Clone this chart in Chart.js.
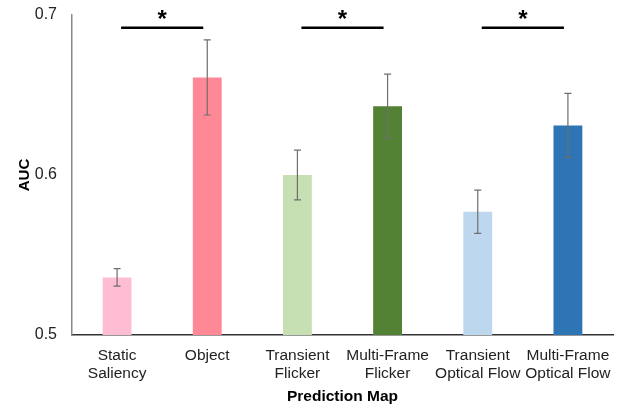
<!DOCTYPE html>
<html>
<head>
<meta charset="utf-8">
<script src="https://cdn.jsdelivr.net/npm/chart.js@4.4.1/dist/chart.umd.min.js"></script>
<style>
  html, body { margin: 0; padding: 0; background: #fff; }
  #wrap { width: 619px; height: 406px; }
</style>
</head>
<body>
<div id="wrap"><canvas id="chart-auc"></canvas></div>
<script>
// valores
var categories = [
  ['Static', 'Saliency'],
  ['Object'],
  ['Transient', 'Flicker'],
  ['Multi-Frame', 'Flicker'],
  ['Transient', 'Optical Flow'],
  ['Multi-Frame', 'Optical Flow']
];
var aucValues = [0.536, 0.661, 0.600, 0.643, 0.577, 0.631];
var aucErrors = [0.0055, 0.0235, 0.0155, 0.020, 0.0135, 0.020];
var barColors = ['#FFBDD3', '#FF8896', '#C6E0B4', '#548235', '#BDD7EE', '#2E75B6'];
var yTicks = [0.5, 0.6, 0.7];
var sigPairs = [[0, 1], [2, 3], [4, 5]];
var sigLevel = 0.692;

var FONT = 'Liberation Sans, Arial, Helvetica, sans-serif';

var errorBars = {
  id: 'errorBars',
  afterDatasetsDraw: function (chart) {
    var ctx = chart.ctx;
    var meta = chart.getDatasetMeta(0);
    var y = chart.scales.y;
    ctx.save();
    ctx.strokeStyle = '#6e6e6e';
    ctx.lineWidth = 1.2;
    meta.data.forEach(function (bar, i) {
      var top = y.getPixelForValue(aucValues[i] + aucErrors[i]);
      var bot = y.getPixelForValue(aucValues[i] - aucErrors[i]);
      ctx.beginPath();
      ctx.moveTo(bar.x, top);
      ctx.lineTo(bar.x, bot);
      ctx.moveTo(bar.x - 3.5, top);
      ctx.lineTo(bar.x + 3.5, top);
      ctx.moveTo(bar.x - 3.5, bot);
      ctx.lineTo(bar.x + 3.5, bot);
      ctx.stroke();
    });
    ctx.restore();
  }
};

var significance = {
  id: 'significance',
  afterDatasetsDraw: function (chart) {
    var ctx = chart.ctx;
    var x = chart.scales.x;
    var yy = chart.scales.y.getPixelForValue(sigLevel);
    ctx.save();
    ctx.strokeStyle = '#000';
    ctx.fillStyle = '#000';
    ctx.lineWidth = 2.5;
    ctx.font = 'bold 24px ' + FONT;
    ctx.textAlign = 'center';
    ctx.textBaseline = 'alphabetic';
    sigPairs.forEach(function (p) {
      var x0 = x.getPixelForValue(p[0]) + 4;
      var x1 = x.getPixelForValue(p[1]) - 4;
      ctx.beginPath();
      ctx.moveTo(x0, yy);
      ctx.lineTo(x1, yy);
      ctx.stroke();
      ctx.fillText('*', (x0 + x1) / 2, yy - 1);
    });
    ctx.restore();
  }
};

new Chart(document.getElementById('chart-auc'), {
  type: 'bar',
  data: {
    labels: categories,
    datasets: [{
      data: aucValues,
      backgroundColor: barColors,
      borderWidth: 0,
      barPercentage: 0.32,
      categoryPercentage: 1
    }]
  },
  options: {
    responsive: true,
    maintainAspectRatio: false,
    animation: false,
    layout: { padding: { top: 15, right: 6, left: 0, bottom: 0 } },
    plugins: {
      legend: { display: false },
      tooltip: { enabled: false }
    },
    scales: {
      x: {
        grid: { display: false, drawTicks: false },
        border: { display: true, color: '#333', width: 1.5 },
        ticks: {
          color: '#222',
          font: { family: FONT, size: 15.5, lineHeight: 1.14 },
          padding: 12,
          maxRotation: 0,
          autoSkip: false
        },
        title: {
          display: true,
          text: 'Prediction Map',
          color: '#000',
          font: { family: FONT, size: 15.5, weight: 'bold', lineHeight: 1.2 },
          padding: { top: 0, bottom: 0 }
        },
        afterFit: function (s) {
          s.height = 71;
          s.paddingLeft = 0;
          s.paddingRight = 0;
        }
      },
      y: {
        min: 0.5,
        max: 0.7,
        grid: { display: false, drawTicks: false },
        border: { display: true, color: '#888', width: 1.5 },
        afterBuildTicks: function (s) {
          s.ticks = yTicks.map(function (v) { return { value: v }; });
        },
        ticks: {
          color: '#222',
          font: { family: FONT, size: 16 },
          padding: 15,
          callback: function (v) { return Number(v).toFixed(1); }
        },
        title: {
          display: true,
          text: 'AUC',
          color: '#000',
          font: { family: FONT, size: 15, weight: 'bold', lineHeight: 1.2 },
          padding: { top: 16, bottom: 0 }
        },
        afterFit: function (s) {
          s.width = 72;
          s.paddingTop = 0;
          s.paddingBottom = 0;
        }
      }
    }
  },
  plugins: [errorBars, significance]
});
</script>
</body>
</html>
